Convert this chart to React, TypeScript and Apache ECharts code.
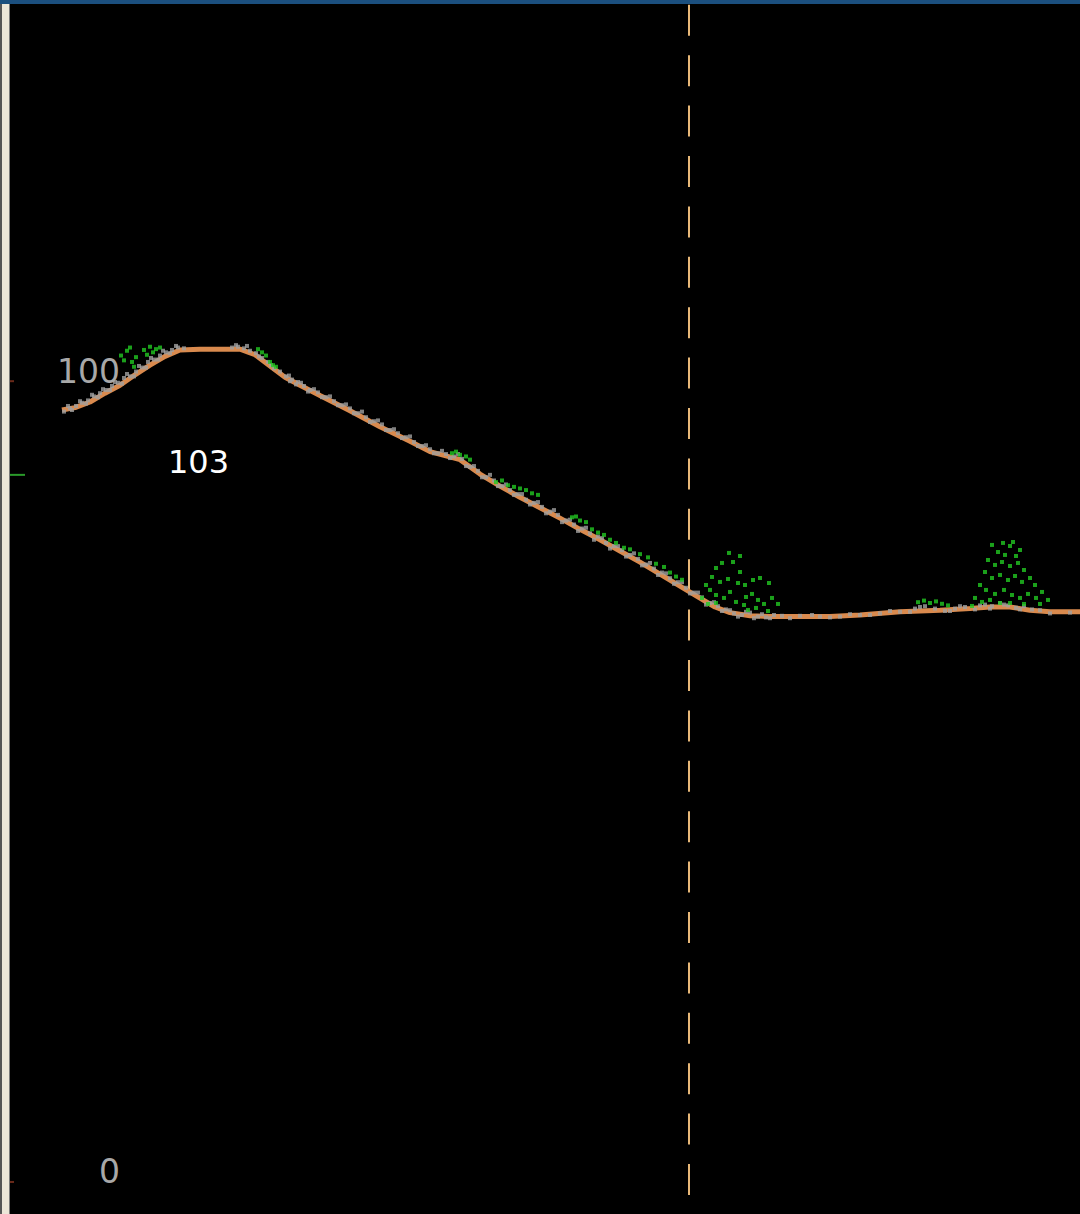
import React, { useEffect, useRef } from "react";
import * as echarts from "echarts";

// Ground profile (distance, elevation)
const profileX = [62, 75, 90, 105, 120, 135, 150, 165, 180, 200, 220, 240, 255, 270, 285, 300, 320, 350, 380, 410, 430, 445, 460, 480, 500, 520, 540, 560, 580, 600, 620, 640, 660, 680, 700, 715, 730, 750, 770, 800, 830, 860, 900, 940, 970, 990, 1010, 1030, 1050, 1080];
const profileY = [96.4, 96.7, 97.4, 98.5, 99.5, 100.8, 102.0, 103.1, 103.9, 104.0, 104.0, 104.0, 103.3, 101.9, 100.5, 99.5, 98.2, 96.3, 94.3, 92.5, 91.2, 90.7, 90.2, 88.4, 86.9, 85.5, 84.2, 82.9, 81.5, 80.2, 78.8, 77.4, 75.9, 74.4, 72.9, 71.8, 71.1, 70.7, 70.6, 70.6, 70.6, 70.8, 71.2, 71.4, 71.6, 71.8, 71.8, 71.4, 71.2, 71.2];

// Ground returns (gray)
const groundPoints: number[][] = [
  [64, 96.2], [68, 96.9], [70, 96.6], [76, 96.9], [80, 97.5], [82, 97.3], [88, 97.6], [92, 98.3], [94, 98.1], [100, 98.5], [103, 99.0], [106, 98.9], [112, 99.4], [115, 99.9], [118, 99.8], [124, 100.4], [127, 100.9], [130, 100.6], [136, 101.2], [139, 101.9], [142, 101.7], [148, 102.4], [151, 102.9], [154, 102.7], [160, 103.2], [163, 103.8], [166, 103.6], [172, 103.9], [176, 104.4], [178, 104.2], [184, 104.1],
  [232, 104.2], [236, 104.5], [238, 104.3], [244, 104.1], [247, 104.4], [250, 103.8], [256, 103.5], [259, 103.1], [262, 102.9], [268, 102.4], [271, 102.0], [274, 101.6], [280, 101.2],
  [286, 100.6], [289, 100.7], [292, 100.2], [298, 99.9], [301, 99.8], [304, 99.4], [310, 98.9], [314, 99.0], [318, 98.6], [326, 98.0], [330, 98.1], [334, 97.5], [342, 97.0], [346, 97.1], [350, 96.6], [358, 96.0], [362, 96.2], [366, 95.5], [374, 95.0], [378, 95.1], [382, 94.6], [390, 93.9], [394, 94.0], [398, 93.5], [406, 93.0], [410, 93.1], [414, 92.4], [422, 91.9], [426, 92.0], [430, 91.5], [438, 91.0], [442, 91.3], [446, 90.9], [454, 90.6], [458, 90.9], [462, 90.3], [470, 89.3], [474, 89.4], [478, 88.8], [486, 88.0], [490, 88.3], [494, 87.6], [502, 86.9], [506, 87.1], [510, 86.4], [518, 85.9], [522, 85.9], [526, 85.2], [534, 84.8], [538, 84.9], [542, 84.3], [550, 83.7], [554, 83.9], [558, 83.3], [566, 82.6], [570, 82.7], [574, 82.1], [582, 81.6], [586, 81.7], [590, 81.0], [598, 80.6], [602, 80.4], [606, 79.8], [614, 79.4], [618, 79.4], [622, 78.9], [630, 78.3], [634, 78.5], [638, 77.8], [646, 77.1], [650, 77.3], [654, 76.6], [662, 76.1], [666, 76.0], [670, 75.4], [678, 74.9], [682, 74.9], [686, 74.2], [694, 73.6], [698, 73.6], [702, 73.0], [710, 72.3], [714, 72.4], [718, 71.9], [726, 71.5], [730, 71.4], [734, 71.0], [742, 70.8], [746, 71.2], [750, 71.1], [758, 70.6], [762, 70.9], [766, 70.5], [774, 70.8], [782, 70.7],
  [800, 70.7], [812, 70.8], [820, 70.6], [840, 70.6], [850, 70.9], [860, 70.8], [880, 71.0], [890, 71.3], [900, 71.2], [915, 71.6], [920, 71.8], [925, 71.9], [935, 71.6], [945, 71.3], [955, 71.6], [960, 71.9], [965, 71.8], [975, 71.5], [980, 72.0], [985, 72.1], [992, 71.9], [1000, 72.3], [1004, 72.1], [1008, 72.0], [1016, 71.7], [1024, 71.9], [1032, 71.5], [1040, 71.4],
  [72, 96.4], [86, 97.2], [98, 98.0], [110, 98.9], [122, 99.7], [134, 100.6], [146, 101.7], [158, 102.7], [170, 103.5],
  [290, 100.0], [296, 99.6], [308, 98.7], [322, 98.0], [338, 97.0], [354, 96.0], [370, 94.9], [386, 93.9], [402, 92.9], [418, 91.9], [434, 91.0], [450, 90.4], [466, 89.4], [482, 88.0], [498, 86.9], [514, 85.8], [530, 84.6], [546, 83.5], [562, 82.4], [578, 81.3], [594, 80.2], [610, 79.1], [626, 78.1], [642, 77.0], [658, 75.8], [674, 74.7], [690, 73.5], [706, 72.1], [722, 71.3], [738, 70.6], [754, 70.4], [770, 70.4], [790, 70.4], [830, 70.5], [870, 70.8], [910, 71.2], [950, 71.3], [990, 71.6], [1020, 71.5], [1050, 71.0], [1070, 71.1]
];

// Vegetation returns (green)
const vegetationPoints: number[][] = [
  [121, 103.2], [124, 102.6], [127, 103.8], [130, 104.2], [132, 102.4], [134, 101.8], [136, 103.0], [144, 103.9], [147, 103.3], [150, 104.3], [153, 103.6], [156, 104.0], [160, 104.2],
  [258, 104.0], [262, 103.6], [266, 103.2], [270, 102.4], [273, 102.0], [276, 101.8],
  [452, 91.0], [456, 91.2], [460, 90.8], [466, 90.6], [470, 90.2],
  [496, 87.4], [502, 87.6], [508, 87.0], [514, 86.8], [520, 86.6], [526, 86.4], [532, 86.0], [538, 85.8],
  [572, 83.0], [576, 83.1], [580, 82.6], [586, 82.4], [592, 81.5], [598, 81.1], [604, 80.8], [610, 80.2], [616, 79.8],
  [624, 79.2], [630, 79.0], [640, 78.4], [648, 78.0], [656, 77.2], [664, 76.8], [670, 76.1], [676, 75.6], [682, 75.2],
  [729, 78.55], [740, 78.17], [722, 77.30], [733, 77.42], [712, 75.55], [720, 74.93], [728, 75.30], [738, 74.80], [745, 74.55], [753, 75.17], [760, 75.42], [769, 74.80], [706, 74.55], [710, 73.93], [716, 73.30], [724, 72.93], [730, 73.68], [736, 72.43], [746, 73.05], [752, 73.43], [758, 72.68], [764, 72.18], [772, 72.93], [778, 72.18], [744, 72.05], [702, 72.93], [708, 72.18], [716, 72.30], [748, 71.43], [756, 71.68], [768, 71.30], [740, 76.17], [716, 76.67],
  [918, 72.4], [924, 72.6], [930, 72.3], [936, 72.5], [942, 72.2], [948, 72.0],
  [992, 79.55], [1003, 79.80], [1010, 79.42], [1013, 79.92], [998, 78.67], [1005, 78.30], [1016, 78.17], [1020, 78.92], [988, 77.67], [995, 77.05], [1002, 77.42], [1010, 76.92], [1018, 77.30], [1024, 76.42], [985, 76.17], [992, 75.42], [1000, 75.80], [1008, 75.17], [1015, 75.67], [1022, 74.93], [1030, 75.42], [1035, 74.55], [980, 74.55], [986, 73.93], [995, 73.43], [1004, 73.93], [1012, 73.30], [1020, 72.93], [1028, 73.43], [1036, 72.93], [1042, 73.68], [1048, 72.68], [975, 72.93], [982, 72.43], [990, 72.68], [1000, 72.30], [1010, 72.30], [1024, 72.18], [1040, 72.18], [972, 71.93]
];

// Cursor position and annotations
const cursorX = [689];
const cursorRange = [147.0, -1.62];
const axisTickValues = [0, 100];
const axisLabels = ["0", "100"];
const markerValue = 88.3;
const peakLabel = "103";
const peakLabelPos = [168, 88.3];

export default function App() {
  const ref = useRef<HTMLDivElement>(null);
  useEffect(() => {
    if (!ref.current) return;
    const chart = echarts.init(ref.current, undefined, { renderer: "svg" });
    const profile = profileX.map((x, i) => [x, profileY[i]]);
    chart.setOption({
      animation: false,
      backgroundColor: "#000000",
      grid: { left: 0, right: 0, top: 0, bottom: 0 },
      xAxis: { type: "value", min: 0, max: 1080, show: false },
      yAxis: { type: "value", min: -4.0, max: 147.6, show: false },
      series: [
        {
          type: "line",
          data: [[cursorX[0], cursorRange[0]], [cursorX[0], cursorRange[1]]],
          showSymbol: false,
          silent: true,
          lineStyle: { color: "#e8b878", width: 2, type: [31, 19.4] },
          z: 1,
        },
        {
          type: "line",
          data: profile,
          showSymbol: false,
          lineStyle: { color: "#d98a4e", width: 5 },
          z: 2,
        },
        {
          type: "scatter",
          data: groundPoints,
          symbol: "rect",
          symbolSize: 4,
          itemStyle: { color: "#a0a0a0" },
          z: 3,
        },
        {
          type: "scatter",
          data: vegetationPoints,
          symbol: "rect",
          symbolSize: 4,
          itemStyle: { color: "#22c822" },
          z: 4,
        },
      ],
    });

    const px = (x: number, y: number) => chart.convertToPixel({ gridIndex: 0 }, [x, y]) as number[];
    const graphics: any[] = [
      { type: "rect", shape: { x: 0, y: 0, width: 1080, height: 4 }, style: { fill: "#1b4f7e" }, z: 100 },
      { type: "rect", shape: { x: 0, y: 4, width: 2, height: 1210 }, style: { fill: "#555555" }, z: 100 },
      { type: "rect", shape: { x: 2, y: 4, width: 7, height: 1210 }, style: { fill: "#ece6d8" }, z: 100 },
      { type: "rect", shape: { x: 9, y: 4, width: 1, height: 1210 }, style: { fill: "#7a7a7a" }, z: 100 },
    ];
    axisTickValues.forEach((v, i) => {
      const p = px(0, v);
      graphics.push({ type: "line", shape: { x1: 10, y1: p[1], x2: 14, y2: p[1] }, style: { stroke: "#6a2a1a", lineWidth: 2 }, z: 100 });
      graphics.push({
        type: "text",
        x: 120,
        y: p[1] - 10,
        style: { text: axisLabels[i], fill: "#a8a8a8", font: "33px 'DejaVu Sans'", align: "right", verticalAlign: "middle" },
        z: 100,
      });
    });
    const m = px(0, markerValue);
    graphics.push({ type: "line", shape: { x1: 10, y1: m[1], x2: 25, y2: m[1] }, style: { stroke: "#2a9a2a", lineWidth: 2 }, z: 100 });
    const pl = px(peakLabelPos[0], peakLabelPos[1]);
    graphics.push({
      type: "text",
      x: pl[0],
      y: pl[1] - 13,
      style: { text: peakLabel, fill: "#ffffff", font: "32px 'DejaVu Sans'", align: "left", verticalAlign: "middle" },
      z: 100,
    });
    chart.setOption({ graphic: graphics });
    return () => chart.dispose();
  }, []);
  return <div ref={ref} style={{ position: "absolute", left: 0, top: 0, width: 1080, height: 1214 }} />;
}
